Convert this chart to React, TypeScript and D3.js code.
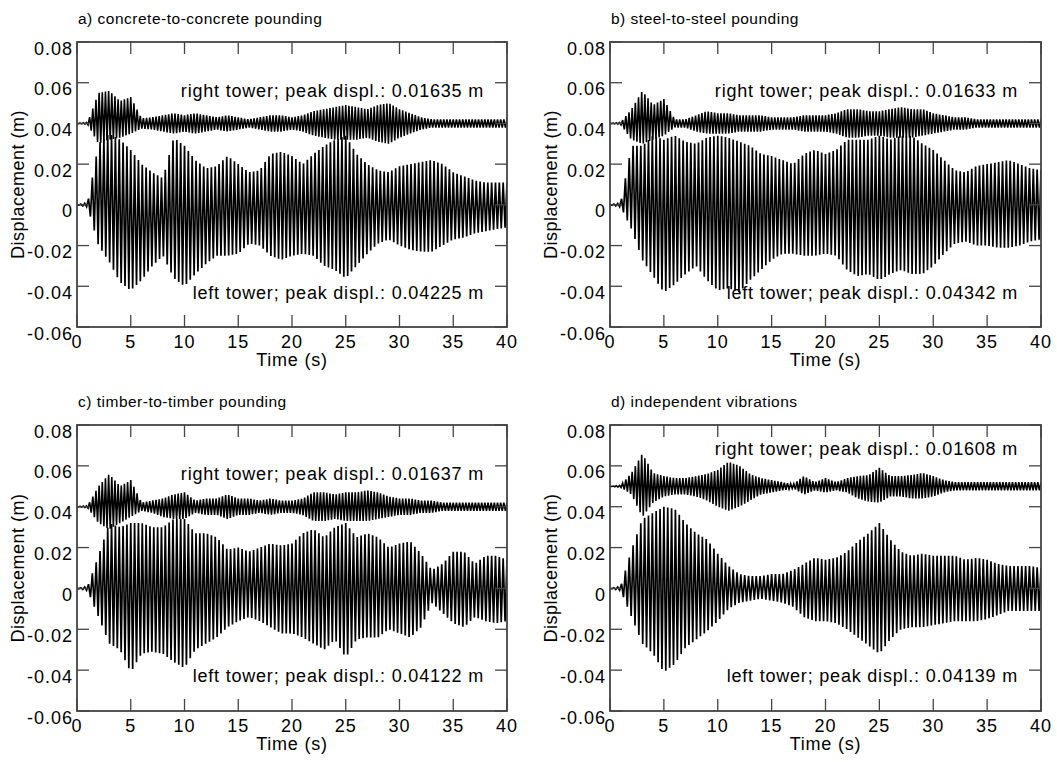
import React from "react";
import * as d3 from "d3";

const W = 1057;
const H = 762;

// axis ticks
const xTicks = [0, 5, 10, 15, 20, 25, 30, 35, 40];
const yTicks = [-0.06, -0.04, -0.02, 0, 0.02, 0.04, 0.06, 0.08];

// envelope sample times (s), one value per second
const envTimes = d3.range(0, 41);

// oscillation frequencies (Hz)
const leftFreq = 2.8;
const rightFreq = 3.4;

// a) concrete-to-concrete
const aLeftUp = [0, 0.001, 0.030, 0.035, 0.032, 0.027, 0.020, 0.016, 0.013, 0.033, 0.029, 0.022, 0.018, 0.019, 0.024, 0.020, 0.016, 0.017, 0.025, 0.026, 0.024, 0.020, 0.025, 0.029, 0.032, 0.034, 0.025, 0.020, 0.017, 0.016, 0.019, 0.020, 0.021, 0.022, 0.020, 0.016, 0.014, 0.012, 0.011, 0.011, 0.011];
const aLeftLo = [0, -0.001, -0.020, -0.028, -0.038, -0.042, -0.037, -0.030, -0.025, -0.036, -0.040, -0.034, -0.029, -0.025, -0.025, -0.024, -0.019, -0.020, -0.025, -0.027, -0.025, -0.024, -0.025, -0.030, -0.032, -0.036, -0.030, -0.024, -0.019, -0.017, -0.020, -0.022, -0.023, -0.023, -0.020, -0.017, -0.016, -0.014, -0.013, -0.012, -0.011];
const aRightUp = [0, 0.0005, 0.015, 0.016, 0.011, 0.013, 0.0025, 0.003, 0.004, 0.005, 0.004, 0.005, 0.004, 0.003, 0.004, 0.003, 0.002, 0.003, 0.004, 0.004, 0.003, 0.004, 0.006, 0.007, 0.008, 0.009, 0.008, 0.007, 0.009, 0.010, 0.007, 0.005, 0.003, 0.002, 0.002, 0.002, 0.002, 0.002, 0.002, 0.002, 0.002];
const aRightLo = [0, -0.0005, -0.010, -0.008, -0.007, -0.005, -0.0025, -0.003, -0.004, -0.005, -0.004, -0.005, -0.004, -0.003, -0.004, -0.003, -0.002, -0.003, -0.004, -0.004, -0.003, -0.004, -0.006, -0.007, -0.008, -0.008, -0.008, -0.007, -0.009, -0.010, -0.007, -0.005, -0.003, -0.002, -0.002, -0.002, -0.002, -0.002, -0.002, -0.002, -0.002];

// b) steel-to-steel
const bLeftUp = [0, 0.001, 0.029, 0.029, 0.034, 0.032, 0.034, 0.031, 0.030, 0.033, 0.034, 0.033, 0.031, 0.029, 0.025, 0.024, 0.022, 0.020, 0.025, 0.027, 0.025, 0.027, 0.032, 0.032, 0.032, 0.034, 0.032, 0.034, 0.034, 0.030, 0.027, 0.022, 0.017, 0.016, 0.019, 0.020, 0.021, 0.022, 0.020, 0.018, 0.017];
const bLeftLo = [0, -0.001, -0.012, -0.027, -0.035, -0.043, -0.039, -0.034, -0.030, -0.037, -0.042, -0.041, -0.043, -0.037, -0.032, -0.027, -0.024, -0.024, -0.025, -0.025, -0.024, -0.025, -0.032, -0.035, -0.034, -0.037, -0.034, -0.032, -0.034, -0.034, -0.030, -0.024, -0.019, -0.018, -0.020, -0.020, -0.021, -0.021, -0.020, -0.018, -0.017];
const bRightUp = [0, 0.0005, 0.007, 0.016, 0.009, 0.012, 0.002, 0.002, 0.004, 0.006, 0.005, 0.005, 0.004, 0.004, 0.004, 0.003, 0.003, 0.003, 0.004, 0.004, 0.004, 0.005, 0.007, 0.007, 0.006, 0.006, 0.007, 0.008, 0.007, 0.007, 0.005, 0.004, 0.003, 0.003, 0.002, 0.002, 0.002, 0.002, 0.002, 0.002, 0.002];
const bRightLo = [0, -0.0005, -0.008, -0.010, -0.008, -0.006, -0.002, -0.002, -0.004, -0.005, -0.005, -0.005, -0.004, -0.004, -0.004, -0.003, -0.003, -0.003, -0.004, -0.004, -0.004, -0.005, -0.007, -0.007, -0.006, -0.006, -0.007, -0.007, -0.007, -0.006, -0.005, -0.004, -0.003, -0.003, -0.002, -0.002, -0.002, -0.002, -0.002, -0.002, -0.002];

// c) timber-to-timber
const cLeftUp = [0, 0.001, 0.016, 0.032, 0.030, 0.032, 0.032, 0.030, 0.030, 0.034, 0.034, 0.027, 0.027, 0.025, 0.019, 0.020, 0.018, 0.020, 0.022, 0.021, 0.022, 0.027, 0.029, 0.025, 0.030, 0.032, 0.025, 0.027, 0.025, 0.020, 0.022, 0.023, 0.017, 0.009, 0.012, 0.018, 0.018, 0.012, 0.016, 0.016, 0.014];
const cLeftLo = [0, -0.001, -0.014, -0.027, -0.030, -0.041, -0.032, -0.031, -0.032, -0.036, -0.039, -0.030, -0.027, -0.024, -0.019, -0.016, -0.014, -0.016, -0.019, -0.022, -0.022, -0.024, -0.027, -0.030, -0.025, -0.034, -0.025, -0.024, -0.024, -0.020, -0.022, -0.024, -0.019, -0.007, -0.012, -0.017, -0.019, -0.014, -0.016, -0.017, -0.016];
const cRightUp = [0, 0.0005, 0.010, 0.016, 0.010, 0.013, 0.002, 0.003, 0.004, 0.006, 0.007, 0.003, 0.004, 0.004, 0.006, 0.004, 0.004, 0.003, 0.004, 0.003, 0.003, 0.004, 0.007, 0.007, 0.006, 0.007, 0.007, 0.008, 0.007, 0.005, 0.004, 0.004, 0.003, 0.003, 0.002, 0.002, 0.002, 0.002, 0.002, 0.002, 0.002];
const cRightLo = [0, -0.0005, -0.008, -0.011, -0.008, -0.005, -0.002, -0.003, -0.005, -0.006, -0.006, -0.003, -0.004, -0.004, -0.006, -0.004, -0.004, -0.003, -0.004, -0.003, -0.003, -0.004, -0.007, -0.007, -0.006, -0.007, -0.007, -0.007, -0.006, -0.005, -0.004, -0.004, -0.003, -0.003, -0.002, -0.002, -0.002, -0.002, -0.002, -0.002, -0.002];

// d) independent vibrations
const dLeftUp = [0, 0.001, 0.019, 0.034, 0.037, 0.040, 0.039, 0.032, 0.027, 0.024, 0.017, 0.011, 0.007, 0.006, 0.006, 0.007, 0.007, 0.009, 0.012, 0.015, 0.014, 0.015, 0.018, 0.023, 0.027, 0.032, 0.024, 0.018, 0.016, 0.017, 0.016, 0.016, 0.016, 0.014, 0.015, 0.014, 0.012, 0.011, 0.011, 0.011, 0.010];
const dLeftLo = [0, -0.001, -0.014, -0.027, -0.032, -0.041, -0.037, -0.029, -0.025, -0.021, -0.016, -0.010, -0.007, -0.006, -0.005, -0.006, -0.007, -0.009, -0.014, -0.016, -0.016, -0.017, -0.020, -0.024, -0.028, -0.032, -0.025, -0.020, -0.019, -0.019, -0.018, -0.017, -0.016, -0.016, -0.016, -0.015, -0.013, -0.011, -0.011, -0.011, -0.011];
const dRightUp = [0, 0.0005, 0.0065, 0.016, 0.0065, 0.005, 0.004, 0.004, 0.005, 0.006, 0.008, 0.012, 0.010, 0.006, 0.004, 0.003, 0.002, 0.001, 0.005, 0.002, 0.004, 0.002, 0.004, 0.005, 0.0055, 0.009, 0.005, 0.005, 0.0055, 0.0065, 0.005, 0.003, 0.002, 0.002, 0.002, 0.002, 0.002, 0.002, 0.002, 0.002, 0.002];
const dRightLo = [0, -0.0005, -0.004, -0.015, -0.008, -0.005, -0.004, -0.004, -0.005, -0.007, -0.010, -0.012, -0.010, -0.007, -0.004, -0.003, -0.002, -0.001, -0.004, -0.002, -0.003, -0.002, -0.003, -0.006, -0.0075, -0.008, -0.005, -0.005, -0.006, -0.006, -0.005, -0.003, -0.002, -0.002, -0.002, -0.002, -0.002, -0.002, -0.002, -0.002, -0.002];

const titles = ["a) concrete-to-concrete pounding", "b) steel-to-steel pounding", "c) timber-to-timber pounding", "d) independent vibrations"];
const rightPeaks = ["0.01635", "0.01633", "0.01637", "0.01608"];
const leftPeaks = ["0.04225", "0.04342", "0.04122", "0.04139"];
const rightBase = [0.04, 0.04, 0.04, 0.05];

const FONT = "'Liberation Sans', Arial, Helvetica, sans-serif";

// builds the trace: alternate between the upper and lower envelope every half cycle
function tracePoints(up, lo, base, freq) {
  const upS = d3.scaleLinear().domain(envTimes).range(up);
  const loS = d3.scaleLinear().domain(envTimes).range(lo);
  const half = 1 / (2 * freq);
  const n = Math.floor(40 / half);
  return d3.range(n + 1).map((k) => {
    const t = k * half;
    return [t, base + (k % 2 === 0 ? upS(t) : loS(t))];
  });
}

function Panel({ idx, x0, y0, w, h, series, rightLabelDy }) {
  const x = d3.scaleLinear().domain([0, 40]).range([x0, x0 + w]);
  const y = d3.scaleLinear().domain([-0.06, 0.08]).range([y0 + h, y0]);
  const line = d3.line().x((d) => x(d[0])).y((d) => y(d[1]));
  const fmtY = (v) => (Math.abs(v) < 1e-9 ? "0" : v.toFixed(2));
  const fmtX = d3.format("d");
  const tickCol = "#444";
  const tl = 12;
  const clipId = `clip-${idx}`;

  const left = tracePoints(series.leftUp, series.leftLo, 0, leftFreq);
  const right = tracePoints(series.rightUp, series.rightLo, rightBase[idx], rightFreq);

  return (
    <g>
      <defs>
        <clipPath id={clipId}>
          <rect x={x0} y={y0} width={w} height={h} />
        </clipPath>
      </defs>
      <text x={x0 + 1} y={y0 - 18} fontSize={15.5} letterSpacing={0.5} fontFamily={FONT}>
        {titles[idx]}
      </text>
      <g clipPath={`url(#${clipId})`}>
        <path d={line(left)} fill="none" stroke="#000" strokeWidth={1.7} />
        <path d={line(right)} fill="none" stroke="#000" strokeWidth={1.6} />
      </g>
      {xTicks.map((t) => (
        <g key={"x" + t}>
          <line x1={x(t)} x2={x(t)} y1={y0 + h} y2={y0 + h - tl} stroke={tickCol} strokeWidth={1.3} />
          <line x1={x(t)} x2={x(t)} y1={y0} y2={y0 + tl} stroke={tickCol} strokeWidth={1.3} />
          <text x={x(t)} y={y0 + h + 21} textAnchor="middle" fontSize={18} letterSpacing={1} fontFamily={FONT}>
            {fmtX(t)}
          </text>
        </g>
      ))}
      {yTicks.map((v) => (
        <g key={"y" + v}>
          <line x1={x0} x2={x0 + tl} y1={y(v)} y2={y(v)} stroke={tickCol} strokeWidth={1.3} />
          <line x1={x0 + w} x2={x0 + w - tl} y1={y(v)} y2={y(v)} stroke={tickCol} strokeWidth={1.3} />
          <text x={x0 - 4} y={y(v) + 12.5} textAnchor="end" fontSize={18} letterSpacing={1} fontFamily={FONT}>
            {fmtY(v)}
          </text>
        </g>
      ))}
      <rect x={x0} y={y0} width={w} height={h} fill="none" stroke={tickCol} strokeWidth={1.8} />
      <text
        x={x0 + w - 23}
        y={y0 + rightLabelDy}
        textAnchor="end"
        fontSize={18}
        letterSpacing={0.8}
        fontFamily={FONT}
      >
        {`right tower; peak displ.: ${rightPeaks[idx]} m`}
      </text>
      <text x={x0 + w - 23} y={y0 + 257} textAnchor="end" fontSize={18} letterSpacing={0.8} fontFamily={FONT}>
        {`left tower; peak displ.: ${leftPeaks[idx]} m`}
      </text>
      <text x={x0 + w / 2} y={y0 + h + 39} textAnchor="middle" fontSize={18} letterSpacing={0.8} fontFamily={FONT}>
        Time (s)
      </text>
      <text
        transform={`translate(${x0 - 53},${y0 + h / 2}) rotate(-90)`}
        textAnchor="middle"
        fontSize={18}
        letterSpacing={0.5}
        fontFamily={FONT}
      >
        Displacement (m)
      </text>
    </g>
  );
}

export default function App() {
  const series = [
    { leftUp: aLeftUp, leftLo: aLeftLo, rightUp: aRightUp, rightLo: aRightLo },
    { leftUp: bLeftUp, leftLo: bLeftLo, rightUp: bRightUp, rightLo: bRightLo },
    { leftUp: cLeftUp, leftLo: cLeftLo, rightUp: cRightUp, rightLo: cRightLo },
    { leftUp: dLeftUp, leftLo: dLeftLo, rightUp: dRightUp, rightLo: dRightLo },
  ];
  const layout = [
    { x0: 77, y0: 42, w: 430, h: 285, dy: 55 },
    { x0: 610, y0: 42, w: 431, h: 285, dy: 55 },
    { x0: 77, y0: 425, w: 430, h: 286, dy: 55 },
    { x0: 610, y0: 425, w: 431, h: 286, dy: 30 },
  ];
  return (
    <svg
      width={W}
      height={H}
      style={{ position: "absolute", left: 0, top: 0, background: "#fff" }}
    >
      {layout.map((l, i) => (
        <Panel key={i} idx={i} x0={l.x0} y0={l.y0} w={l.w} h={l.h} series={series[i]} rightLabelDy={l.dy} />
      ))}
    </svg>
  );
}
